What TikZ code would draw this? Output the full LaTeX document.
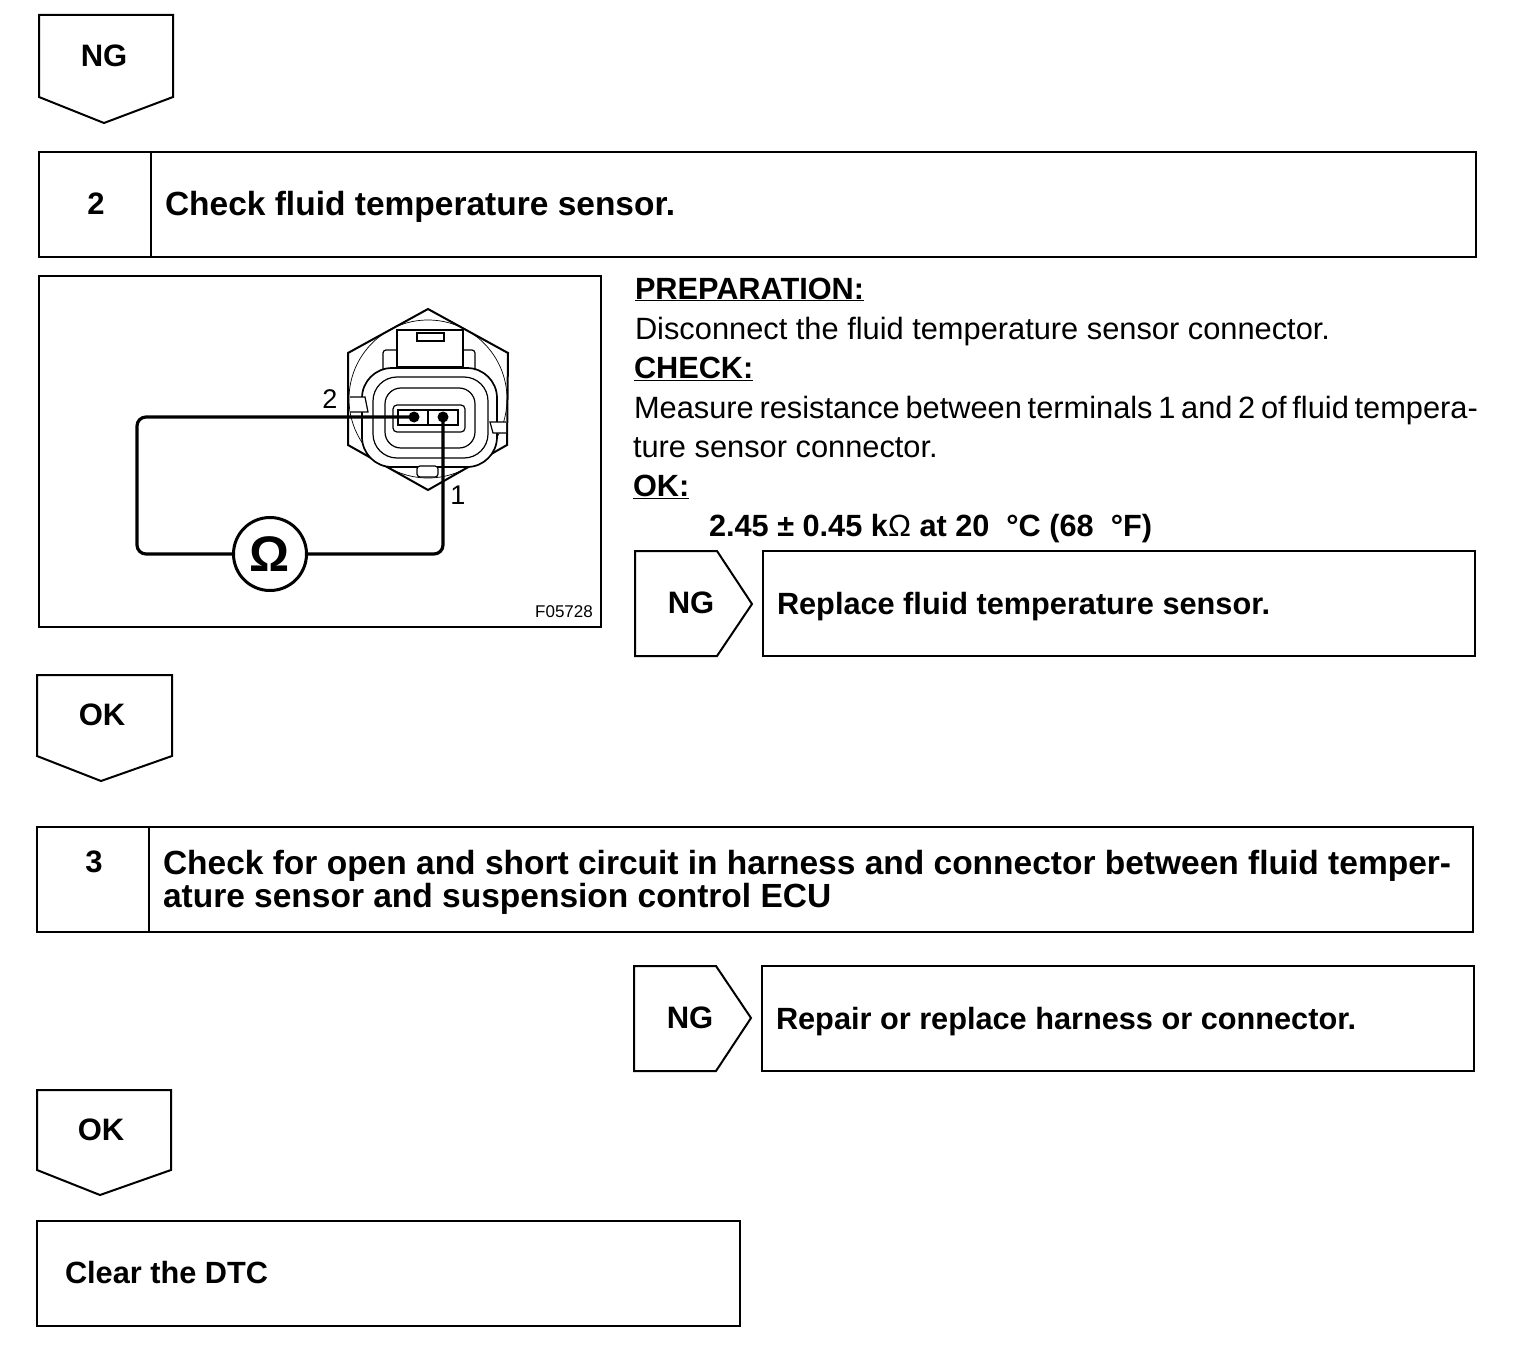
\documentclass[tikz,border=0pt]{standalone}
\usepackage{fontspec}
\setmainfont{Liberation Sans}
\usetikzlibrary{positioning, calc}
\begin{document}
\begin{tikzpicture}[
      x=1pt, y=-1pt,
      every node/.style={inner sep=0pt, outer sep=0pt},
      frame/.style={draw, line width=2.5pt},
      tagline/.style={draw, line width=2pt, line join=miter},
      fine/.style={draw, line width=1.2pt},
      body/.style={anchor=base west, font=\fontsize{30.8}{32}\selectfont},
      label/.style={anchor=base west, font=\fontsize{30.7}{32}\selectfont\bfseries},
      head/.style={anchor=base west, font=\fontsize{33.5}{36}\selectfont\bfseries},
      tagtext/.style={font=\fontsize{31}{34}\selectfont\bfseries},
      wire/.style={draw, line width=3.2pt, rounded corners=9pt},
      pin/.style={circle, fill=black, minimum size=11pt},
    ]
    \useasboundingbox (0,0) rectangle (1520,1356);

    % tags between the steps
    \draw[tagline] (39,15) -- (173,15) -- (173,97) -- (104,123) -- (39,97) -- cycle;
    \node[tagtext] (ngtop) at (104,56) {NG};
    \draw[tagline] (37,675) -- (172,675) -- (172,756) -- (101,781) -- (37,756) -- cycle;
    \node[tagtext] (oka) at (102,715) {OK};
    \draw[tagline] (37,1090) -- (171,1090) -- (171,1170) -- (100,1195) -- (37,1170) -- cycle;
    \node[tagtext] (okb) at (101,1130) {OK};

    % step 2
    \draw[frame] (39,152) rectangle (1476,257);
    \draw[frame] (151,152) -- (151,257);
    \node[tagtext] (num2) at (96,204) {2};
    \node[head] (title2) at (165,216) {Check fluid temperature sensor.};

    % sensor figure
    \draw[frame] (39,276) rectangle (601,627);
    \node[font=\fontsize{17}{20}\selectfont] (figid) at (564,612) {F05728};
    \draw[fine, line width=0.7pt] (428,399) circle (79);
    \draw[tagline] (428,309) -- (508,353) -- (507,445) -- (428,490)
      -- (348,445) -- (348,353) -- cycle;
    \draw[fine, line width=1.7pt, fill=white, rounded corners=30pt] (362,368) rectangle (497,467);
    \draw[fine, rounded corners=24pt] (373,377) rectangle (488,458);
    \draw[fine, rounded corners=16pt] (385,388) rectangle (475,448);
    \draw[fine, rounded corners=4pt] (393,405) rectangle (465,432);
    \draw[fine, fill=white] (397,330) rectangle (463,367);
    \draw[fine] (417,333) rectangle (444,341);
    \draw[fine, rounded corners=3pt] (383,370) -- (383,350) -- (397,350);
    \draw[fine, rounded corners=3pt] (475,370) -- (475,350) -- (463,350);
    \draw[fine, fill=white] (350,397) -- (365,397) -- (368,412) -- (350,412);
    \draw[fine, fill=white] (506,422) -- (490,422) -- (493,433) -- (506,433);
    \draw[fine, fill=white, rounded corners=3pt] (417,466) rectangle (438,477);
    \draw[tagline] (398,410) rectangle (458,425);
    \draw[tagline] (428,410) -- (428,425);
    \node[pin] (term2) at (414,417) {};
    \node[pin] (term1) at (443,417) {};
    \node[circle, draw, line width=3pt, minimum size=73pt,
          font=\fontsize{50}{50}\selectfont\bfseries] (ohm) at (270,554) {Ω};
    \coordinate (wireul) at (137,417);
    \coordinate (wirell) at (137,554);
    \coordinate (wirelr) at (443,554);
    \draw[wire] (term2.center) -- (wireul) -- (wirell) -- (ohm.west);
    \draw[wire] (ohm.east) -- (wirelr) -- (term1.center);
    \node[font=\fontsize{27}{30}\selectfont] (lab2) at (330,399) {2};
    \node[font=\fontsize{27}{30}\selectfont] (lab1) at (458,495) {1};

    % check text
    \node[label] (prep) at (635,299) {\underline{PREPARATION:}};
    \node[body] (line1) at (635,339) {Disconnect the fluid temperature sensor connector.};
    \node[label] (chk) at (634,378) {\underline{CHECK:}};
    \node[body] (line2) at (634,418) {\spaceskip=5.7pt Measure resistance between terminals 1 and 2 of fluid tempera-};
    \node[body] (line3) at (633,457) {ture sensor connector.};
    \node[label] (okhead) at (633,496) {\underline{OK:}};
    \node[label] (spec) at (709,536)
      {2.45 ± 0.45 k{\mdseries Ω} at 20\hspace{17pt}°C (68\hspace{17pt}°F)};

    % NG branch of step 2
    \draw[tagline] (635,551) -- (717,551) -- (752,604) -- (717,656) -- (635,656) -- cycle;
    \node[tagtext] (nga) at (691,603) {NG};
    \draw[frame] (763,551) rectangle (1475,656);
    \node[label] (fixa) at (777,614) {Replace fluid temperature sensor.};

    % step 3
    \draw[frame] (37,827) rectangle (1473,932);
    \draw[frame] (149,827) -- (149,932);
    \node[tagtext] (num3) at (94,862) {3};
    \node[head] (title3a) at (163,874) {Check for open and short circuit in harness and connector between fluid temper-};
    \node[head] (title3b) at (163,907) {ature sensor and suspension control ECU};

    % NG branch of step 3
    \draw[tagline] (634,966) -- (716,966) -- (751,1018) -- (716,1071) -- (634,1071) -- cycle;
    \node[tagtext] (ngb) at (690,1018) {NG};
    \draw[frame] (762,966) rectangle (1474,1071);
    \node[label] (fixb) at (776,1029) {Repair or replace harness or connector.};

    % last box
    \draw[frame] (37,1221) rectangle (740,1326);
    \node[label] (clear) at (65,1283) {Clear the DTC};
\end{tikzpicture}
\end{document}
